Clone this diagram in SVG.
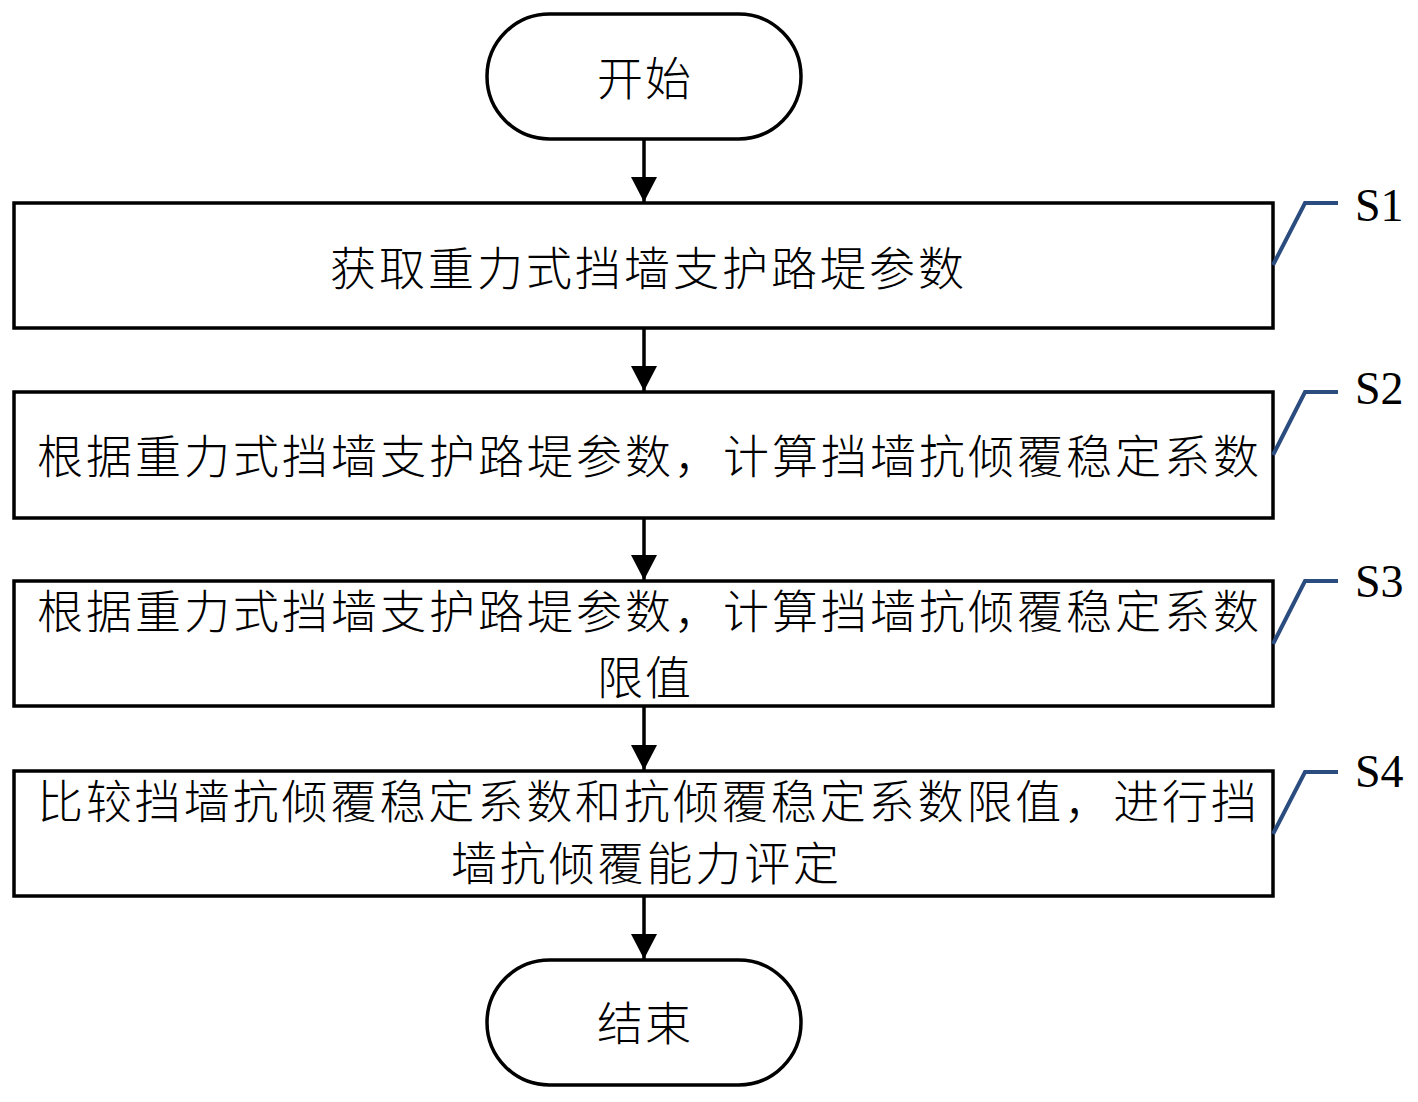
<svg xmlns="http://www.w3.org/2000/svg" width="1418" height="1102" viewBox="0 0 1418 1102">
<defs>
<style>
.box{fill:#fff;stroke:#000;stroke-width:3.5}
.t{font-family:"Noto Sans CJK SC","Noto Sans CJK JP",sans-serif;font-size:46px;font-weight:300;fill:#000}
.c{text-anchor:middle}
.lbl{font-family:"Liberation Serif","Times New Roman",serif;font-size:46px;fill:#000}
.co{fill:none;stroke:#2b4c7e;stroke-width:4}
.ln{stroke:#000;stroke-width:3.5}
</style>
<marker id="ah" viewBox="0 0 25 26" refX="25" refY="13" markerWidth="25" markerHeight="26" markerUnits="userSpaceOnUse" orient="auto">
<path d="M0,0 L25,13 L0,26 Z" fill="#000"/>
</marker>
</defs>
<rect width="1418" height="1102" fill="#fff"/>
<g id="start">
<rect class="box" x="487" y="14" width="314" height="125" rx="62.5" ry="62.5"/>
<text class="t c" x="644" y="95" textLength="94" lengthAdjust="spacing">开始</text>
</g>
<g id="s1">
<rect class="box" x="14" y="203" width="1259" height="125"/>
<text class="t" x="330" y="285" textLength="634" lengthAdjust="spacing">获取重力式挡墙支护路堤参数</text>
</g>
<g id="s2">
<rect class="box" x="14" y="392" width="1259" height="126"/>
<text class="t" x="37" y="473" textLength="1222" lengthAdjust="spacing">根据重力式挡墙支护路堤参数，计算挡墙抗倾覆稳定系数</text>
</g>
<g id="s3">
<rect class="box" x="14" y="581" width="1259" height="125"/>
<text class="t" x="37" y="628" textLength="1222" lengthAdjust="spacing">根据重力式挡墙支护路堤参数，计算挡墙抗倾覆稳定系数</text>
<text class="t c" x="644" y="694" textLength="94" lengthAdjust="spacing">限值</text>
</g>
<g id="s4">
<rect class="box" x="14" y="771" width="1259" height="125"/>
<text class="t" x="37" y="818" textLength="1220" lengthAdjust="spacing">比较挡墙抗倾覆稳定系数和抗倾覆稳定系数限值，进行挡</text>
<text class="t c" x="645" y="880" textLength="388" lengthAdjust="spacing">墙抗倾覆能力评定</text>
</g>
<g id="end">
<rect class="box" x="487" y="960" width="314" height="125" rx="62.5" ry="62.5"/>
<text class="t c" x="644" y="1040" textLength="94" lengthAdjust="spacing">结束</text>
</g>
<g id="labels">
<path class="co" d="M1273,265 L1305,203 L1338,203"/>
<text class="lbl" x="1355" y="221">S1</text>
<path class="co" d="M1273,455 L1305,392 L1338,392"/>
<text class="lbl" x="1355" y="404">S2</text>
<path class="co" d="M1273,644 L1305,581 L1338,581"/>
<text class="lbl" x="1355" y="597">S3</text>
<path class="co" d="M1273,834 L1305,772 L1338,772"/>
<text class="lbl" x="1355" y="787">S4</text>
</g>
<g id="connectors">
<line class="ln" x1="644" y1="139" x2="644" y2="202" marker-end="url(#ah)"/>
<line class="ln" x1="644" y1="328" x2="644" y2="391" marker-end="url(#ah)"/>
<line class="ln" x1="644" y1="518" x2="644" y2="580" marker-end="url(#ah)"/>
<line class="ln" x1="644" y1="706" x2="644" y2="770" marker-end="url(#ah)"/>
<line class="ln" x1="644" y1="896" x2="644" y2="959" marker-end="url(#ah)"/>
</g>
</svg>
